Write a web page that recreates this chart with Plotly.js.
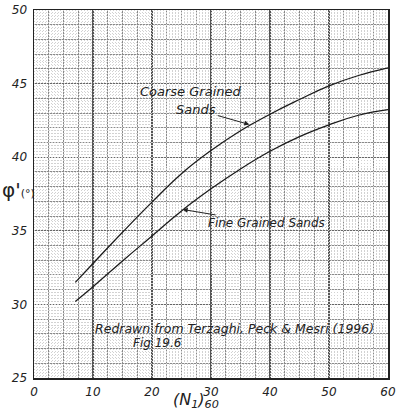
<!DOCTYPE html>
<html>
<head>
<meta charset="utf-8">
<script src="https://cdn.plot.ly/plotly-3.0.1.min.js"></script>
<style>html,body{margin:0;padding:0;background:#fff;}#chart{width:396px;height:416px;}</style>
</head>
<body>
<div id="chart"></div>
<script>
// N1(60) values
const nValues = [7, 10, 15, 20, 25, 30, 35, 40, 45, 50, 55, 60];
// friction angle (deg)
const coarsePhi = [31.5, 32.78, 34.9, 36.95, 38.88, 40.45, 41.8, 42.92, 43.92, 44.85, 45.55, 46.07];
const finePhi   = [30.2, 31.2, 32.95, 34.65, 36.35, 37.85, 39.2, 40.4, 41.4, 42.2, 42.85, 43.23];
const labels = {
  coarse1: 'Coarse Grained',
  coarse2: 'Sands',
  fine: 'Fine Grained Sands',
  src1: 'Redrawn from Terzaghi, Peck & Mesri (1996)',
  src2: 'Fig 19.6',
  xTitle: '(N<sub>1</sub>)<sub>60</sub>',
  yTitle: "φ'<span style='font-size:11px'>(°)</span>"
};

const hand = {family: 'DejaVu Sans', color: '#222', style: 'italic'};
const lineStyle = {color: '#1a1a1a', width: 1.25, shape: 'spline', smoothing: 1.3};

const traces = [
  {x: nValues, y: coarsePhi, mode: 'lines', line: lineStyle, hoverinfo: 'skip', showlegend: false},
  {x: nValues, y: finePhi, mode: 'lines', line: lineStyle, hoverinfo: 'skip', showlegend: false},
  {x: [], y: [], xaxis: 'x2', yaxis: 'y2', mode: 'lines', showlegend: false, hoverinfo: 'skip'}
];

const layout = {
  width: 396, height: 416,
  margin: {l: 34, r: 8, t: 10, b: 38},
  paper_bgcolor: '#fff', plot_bgcolor: '#fff',
  showlegend: false,
  xaxis: {
    range: [0, 60], tickmode: 'linear', tick0: 0, dtick: 10,
    showgrid: true, gridcolor: '#555', gridwidth: 1.3,
    minor: {tickmode: 'linear', tick0: 0, dtick: 2.5, showgrid: true, gridcolor: '#8a8a8a', gridwidth: 1},
    showline: true, linecolor: '#222', linewidth: 1.5, mirror: true,
    zeroline: false, ticks: '', ticklabelstandoff: 2,
    tickfont: {family: hand.family, style: 'italic', size: 12, color: '#222'}
  },
  yaxis: {
    range: [25, 50], tickmode: 'linear', tick0: 25, dtick: 5,
    showgrid: true, gridcolor: '#666', gridwidth: 1.2,
    minor: {tickmode: 'linear', tick0: 25, dtick: 1, showgrid: true, gridcolor: '#8a8a8a', gridwidth: 1},
    showline: true, linecolor: '#222', linewidth: 1.5, mirror: true,
    zeroline: false, ticks: '', ticklabelstandoff: 3,
    tickfont: {family: hand.family, style: 'italic', size: 12, color: '#222'}
  },
  xaxis2: {overlaying: 'x', range: [0, 60], tickmode: 'linear', tick0: 0, dtick: 0.5, showgrid: true,
           gridcolor: '#d2d2d2', griddash: '1px,2px', gridwidth: 1, showticklabels: false,
           zeroline: false, showline: false, ticks: ''},
  yaxis2: {overlaying: 'y', range: [25, 50], tickmode: 'linear', tick0: 25, dtick: 0.2, showgrid: true,
           gridcolor: '#d2d2d2', griddash: '1px,2px', gridwidth: 1, showticklabels: false,
           zeroline: false, showline: false, ticks: ''},
  annotations: [
    {x: 26.6, y: 44.45, text: labels.coarse1, showarrow: false, xanchor: 'center', yanchor: 'middle',
     font: Object.assign({size: 13}, hand)},
    {x: 36.5, y: 42.22, text: labels.coarse2, showarrow: true, arrowhead: 2, arrowsize: 1, arrowwidth: 1,
     arrowcolor: '#222', ax: -53, ay: -15, xanchor: 'center', yanchor: 'middle',
     font: Object.assign({size: 13}, hand)},
    {x: 25.2, y: 36.45, text: labels.fine, showarrow: true, arrowhead: 2, arrowsize: 1, arrowwidth: 1,
     arrowcolor: '#222', ax: 84, ay: 14, xanchor: 'center', yanchor: 'middle',
     font: Object.assign({size: 12}, hand)},
    {x: 33.95, y: 28.33, text: labels.src1, showarrow: false, xanchor: 'center', yanchor: 'middle',
     font: Object.assign({size: 12.5}, hand)},
    {x: 20.9, y: 27.38, text: labels.src2, showarrow: false, xanchor: 'center', yanchor: 'middle',
     font: Object.assign({size: 12}, hand)},
    {xref: 'paper', yref: 'paper', x: -0.045, y: 0.511, text: labels.yTitle, showarrow: false,
     xanchor: 'center', yanchor: 'middle', font: {family: 'DejaVu Sans', size: 20, color: '#222'}},
    {xref: 'paper', yref: 'paper', x: 0.458, y: -0.06, text: labels.xTitle, showarrow: false,
     xanchor: 'center', yanchor: 'middle', font: Object.assign({size: 16}, hand)}
  ]
};

Plotly.newPlot('chart', traces, layout, {staticPlot: true, displayModeBar: false});
</script>
</body>
</html>
